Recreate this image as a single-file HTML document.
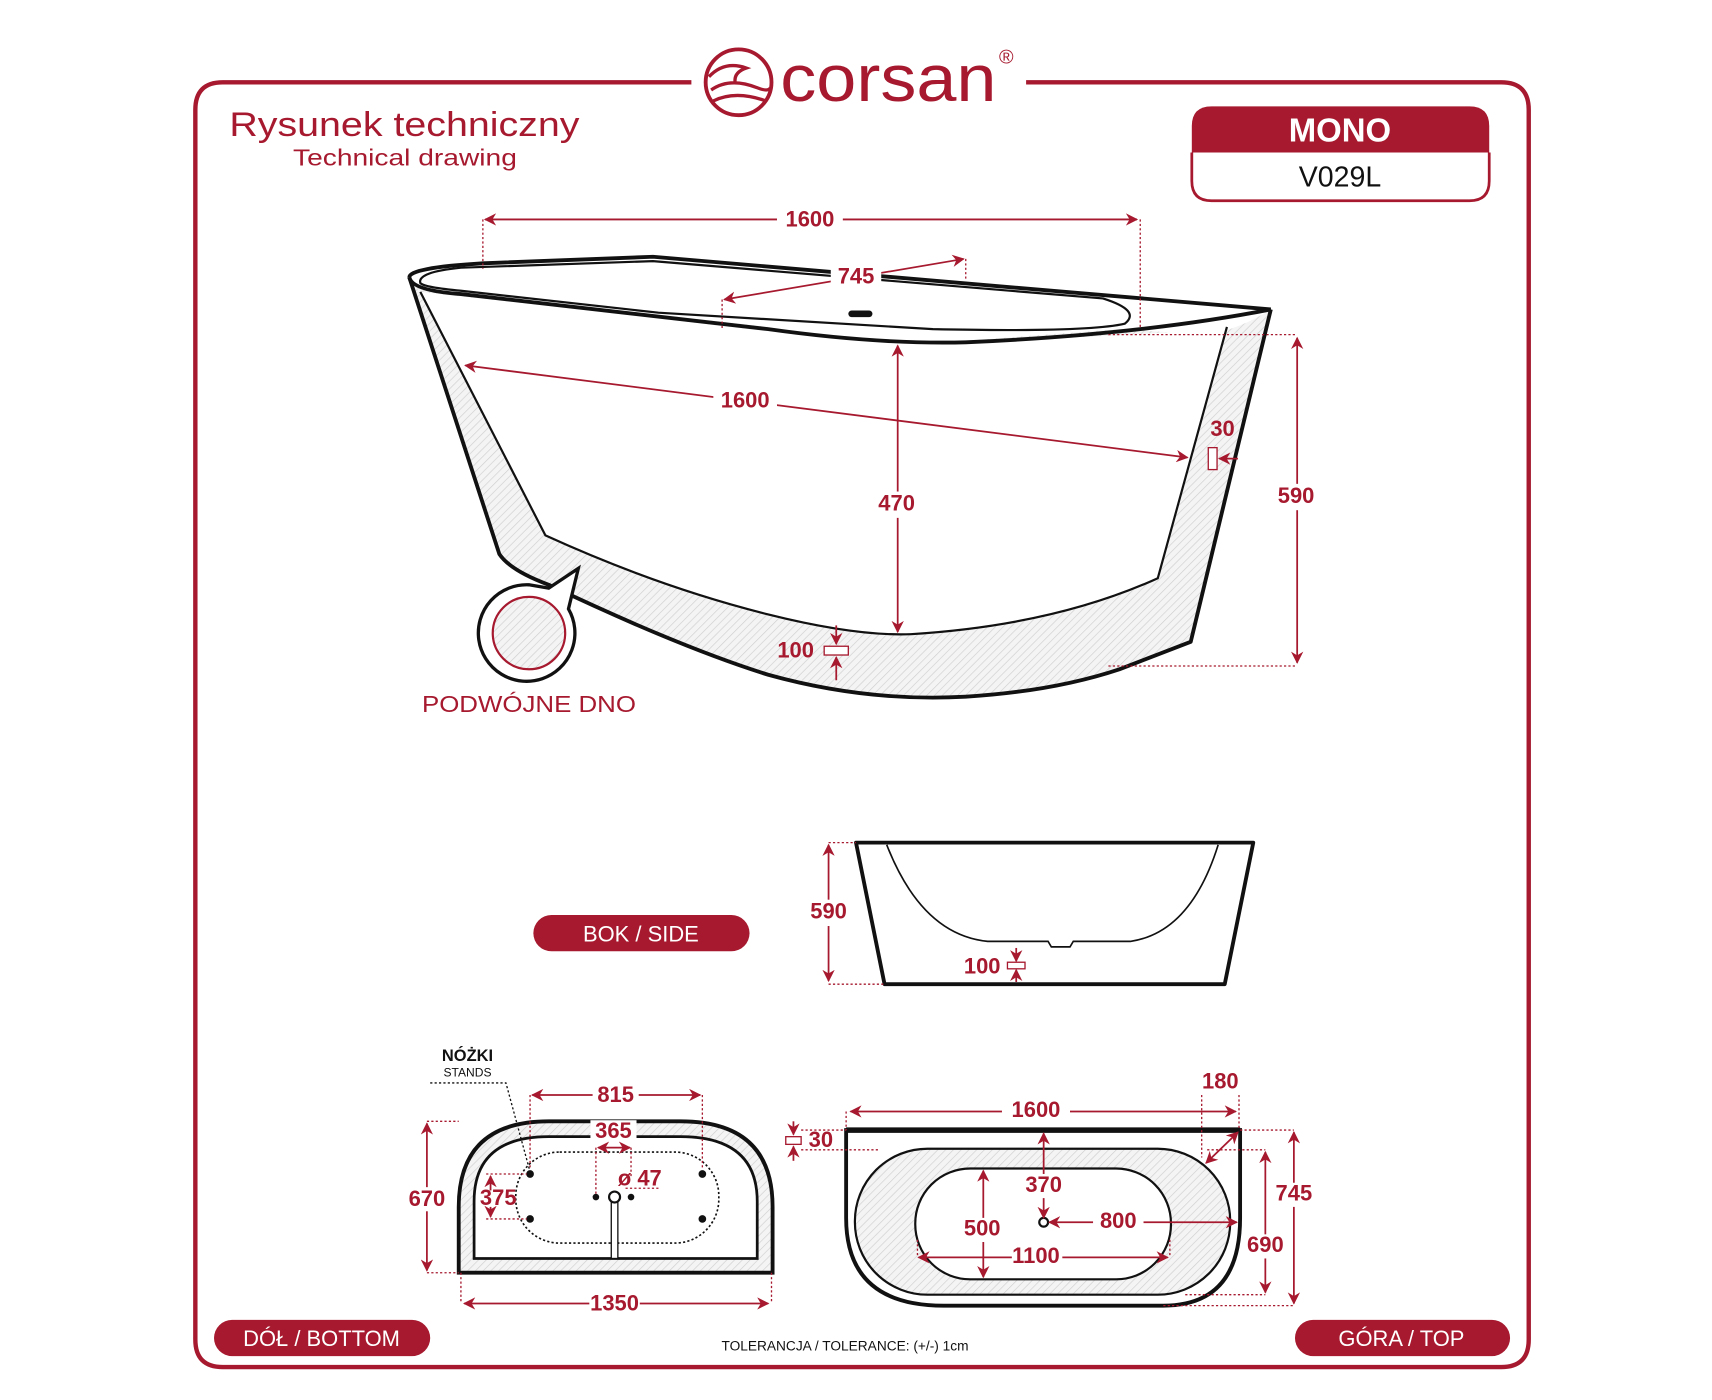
<!DOCTYPE html>
<html><head><meta charset="utf-8"><style>
html,body{margin:0;padding:0;background:#fff;}
svg{display:block;}
text{font-family:"Liberation Sans",sans-serif;}
.d{fill:#a6192e;font-weight:bold;font-size:20px;text-anchor:middle;dominant-baseline:middle;}
.dl{stroke:#a6192e;stroke-width:1.6;fill:none;}
.ext{stroke:#a6192e;stroke-width:1.2;stroke-dasharray:2 2;fill:none;}
.k{stroke:#111;stroke-width:3.5;fill:none;stroke-linejoin:round;}
</style></head><body>
<svg width="1712" height="1400" viewBox="0 0 1560 1276" preserveAspectRatio="none" xmlns="http://www.w3.org/2000/svg">
<defs>
<pattern id="h" width="5" height="5" patternUnits="userSpaceOnUse" patternTransform="rotate(45)">
<rect width="5" height="5" fill="#f4f4f4"/><line x1="0" y1="0" x2="0" y2="5" stroke="#cfcfcf" stroke-width="1.2"/></pattern>
<marker id="a" viewBox="0 0 10 10" refX="9" refY="5" markerWidth="7" markerHeight="7" orient="auto-start-reverse"><path d="M0,0 L10,5 L0,10 L3,5 Z" fill="#a6192e"/></marker>
</defs>
<!-- frame -->
<path d="M630,75 L203,75 Q178,75 178,100 L178,1221 Q178,1246 203,1246 L1368,1246 Q1393,1246 1393,1221 L1393,100 Q1393,75 1368,75 L935,75" fill="none" stroke="#a6192e" stroke-width="4"/>
<!-- logo -->
<circle cx="673" cy="75" r="30" fill="none" stroke="#a6192e" stroke-width="3.5"/>
<path d="M646,70 Q660,55 680,62 Q668,66 670,76 M648,82 Q665,70 690,80 Q700,84 702,80 M650,92 Q670,82 698,92" fill="none" stroke="#a6192e" stroke-width="3"/>
<text x="711" y="92" font-size="60" fill="#a6192e" textLength="197" lengthAdjust="spacingAndGlyphs">corsan</text>
<text x="917" y="58" font-size="18" fill="#a6192e" text-anchor="middle">®</text>
<text x="209" y="124" font-size="31" fill="#a6192e" textLength="319" lengthAdjust="spacingAndGlyphs">Rysunek techniczny</text>
<text x="267" y="151" font-size="21" fill="#a6192e" textLength="204" lengthAdjust="spacingAndGlyphs">Technical drawing</text>
<!-- MONO -->
<path d="M1086,139 L1086,115 Q1086,97 1104,97 L1339,97 Q1357,97 1357,115 L1357,139 Z" fill="#a6192e"/>
<path d="M1086,139 L1086,165 Q1086,183 1104,183 L1339,183 Q1357,183 1357,165 L1357,139" fill="none" stroke="#a6192e" stroke-width="2.5"/>
<text x="1221" y="129" font-size="30" font-weight="bold" fill="#fff" text-anchor="middle">MONO</text>
<text x="1221" y="170" font-size="26" fill="#111" text-anchor="middle">V029L</text>

<!-- main bathtub -->
<path d="M373,253 L455,505 Q470,523 500,533 Q620,590 700,615 Q790,640 880,635 Q960,630 1020,610 L1085,585 L1158,282 Q1130,300 1100,305 L1020,300 L860,312 Q800,314 700,298 L380,262 Z" fill="url(#h)"/>
<path d="M383,266 L497,488 Q600,535 700,560 Q780,580 830,578 Q960,570 1055,527 L1118,298 Q1050,306 860,312 Q750,310 600,290 Z" fill="#fff"/>
<path class="k" d="M373,253 L455,505 Q465,520 500,533 Q620,590 700,615 Q790,640 880,635 Q960,630 1020,610 L1085,585 L1158,282"/>
<path class="k" d="M373,253 Q372,244 440,240 L595,234 L1158,282"/>
<path d="M383,266 L497,488 Q600,535 700,560 Q780,580 830,578 Q960,570 1055,527 L1118,298" fill="none" stroke="#111" stroke-width="2"/>
<path class="k" d="M373,253 Q376,265 420,268 L700,300 Q800,314 880,312 Q1040,305 1158,282"/>
<path d="M383,258 Q380,248 420,244 L595,238 L1005,272 Q1040,283 1025,295 Q990,303 850,300 L600,285 L420,265 Q387,262 383,258 Z" fill="none" stroke="#111" stroke-width="2"/>
<rect x="773" y="283" width="22" height="6" rx="3" fill="#111"/>
<!-- dims main -->
<line class="dl" x1="442" y1="200" x2="1036" y2="200" marker-start="url(#a)" marker-end="url(#a)"/>
<rect x="708" y="188" width="60" height="24" fill="#fff"/><text class="d" x="738" y="201">1600</text>
<line class="ext" x1="440" y1="200" x2="440" y2="245"/><line class="ext" x1="1039" y1="200" x2="1039" y2="300"/>
<line class="dl" x1="660" y1="273" x2="878" y2="236" marker-start="url(#a)" marker-end="url(#a)"/>
<line class="ext" x1="658" y1="273" x2="658" y2="300"/><line class="ext" x1="880" y1="236" x2="880" y2="255"/>
<rect x="757" y="241" width="46" height="22" fill="#fff"/><text class="d" x="780" y="253">745</text>
<line class="dl" x1="424" y1="333" x2="1082" y2="417" marker-start="url(#a)" marker-end="url(#a)"/>
<rect x="650" y="354" width="58" height="24" fill="#fff"/><text class="d" x="679" y="366">1600</text>
<line class="dl" x1="818" y1="315" x2="818" y2="576" marker-start="url(#a)" marker-end="url(#a)"/>
<rect x="795" y="448" width="46" height="24" fill="#fff"/><text class="d" x="817" y="460">470</text>
<line class="dl" x1="1182" y1="308" x2="1182" y2="604" marker-start="url(#a)" marker-end="url(#a)"/>
<rect x="1160" y="441" width="46" height="24" fill="#fff"/><text class="d" x="1181" y="453">590</text>
<line class="ext" x1="1010" y1="305" x2="1182" y2="305"/><line class="ext" x1="1010" y1="607" x2="1182" y2="607"/>
<rect x="1101" y="408" width="8" height="20" fill="#fff" stroke="#a6192e" stroke-width="1.2"/>
<line class="dl" x1="1128" y1="418" x2="1111" y2="418" marker-end="url(#a)"/>
<text class="d" x="1114" y="392">30</text>
<rect x="751" y="589" width="22" height="8" fill="#fff" stroke="#a6192e" stroke-width="1.2"/>
<line class="dl" x1="762" y1="570" x2="762" y2="587" marker-end="url(#a)"/>
<line class="dl" x1="762" y1="620" x2="762" y2="599" marker-end="url(#a)"/>
<text class="d" x="725" y="594">100</text>
<!-- detail circle -->
<path d="M482,533 A44,44 0 1,0 518,555 L527,518 L500,536 Z" fill="#fff" stroke="#111" stroke-width="3"/>
<circle cx="482" cy="577" r="33" fill="url(#h)" stroke="#a6192e" stroke-width="2"/>
<text x="482" y="649" font-size="21" fill="#a6192e" text-anchor="middle" textLength="195" lengthAdjust="spacingAndGlyphs">PODWÓJNE DNO</text>

<!-- BOK / SIDE -->
<rect x="486" y="834" width="197" height="33" rx="16.5" fill="#a6192e"/>
<text x="584" y="858" font-size="20" fill="#fff" text-anchor="middle">BOK / SIDE</text>
<path d="M808,770 Q840,852 900,858 L1040,858 Q1085,850 1110,770 Z" fill="#fff"/>
<path class="k" d="M780,768 L1142,768 L1116,897 L806,897 Z" stroke-width="3"/>
<path d="M808,770 Q840,852 900,858 L955,858 L958,863 L975,863 L978,858 L1030,858 Q1085,850 1110,770" fill="none" stroke="#111" stroke-width="1.5"/>
<line class="dl" x1="755" y1="770" x2="755" y2="894" marker-start="url(#a)" marker-end="url(#a)"/>
<line class="ext" x1="755" y1="768" x2="780" y2="768"/><line class="ext" x1="755" y1="897" x2="806" y2="897"/>
<rect x="735" y="820" width="42" height="24" fill="#fff"/><text class="d" x="755" y="832">590</text>
<rect x="918" y="877" width="16" height="6" fill="#fff" stroke="#a6192e" stroke-width="1.2"/>
<line class="dl" x1="926" y1="864" x2="926" y2="876" marker-end="url(#a)"/>
<line class="dl" x1="926" y1="895" x2="926" y2="884" marker-end="url(#a)"/>
<text class="d" x="895" y="882">100</text>

<!-- bottom view -->
<path d="M418,1160 L418,1100 Q418,1022 500,1022 L620,1022 Q704,1022 704,1100 L704,1160 Z" fill="url(#h)" stroke="#111" stroke-width="3.5"/>
<path d="M432,1147 L432,1095 Q432,1036 500,1036 L620,1036 Q690,1036 690,1095 L690,1147 Z" fill="#fff" stroke="#111" stroke-width="2.5"/>
<rect x="470" y="1050" width="185" height="83" rx="40" fill="none" stroke="#111" stroke-width="1.5" stroke-dasharray="2 2"/>
<g fill="#111"><circle cx="483" cy="1070" r="3.5"/><circle cx="640" cy="1070" r="3.5"/><circle cx="483" cy="1111" r="3.5"/><circle cx="640" cy="1111" r="3.5"/><circle cx="543" cy="1091" r="3"/><circle cx="575" cy="1091" r="3"/></g>
<rect x="557" y="1090" width="6" height="57" fill="#fff" stroke="#111" stroke-width="1.2"/>
<circle cx="560" cy="1091" r="5" fill="#fff" stroke="#111" stroke-width="2"/>
<text x="426" y="967" font-size="15" font-weight="bold" fill="#111" text-anchor="middle">NÓŻKI</text>
<text x="426" y="981" font-size="11" fill="#111" text-anchor="middle">STANDS</text>
<path d="M392,987 L461,987 L483,1068" fill="none" stroke="#111" stroke-width="1.2" stroke-dasharray="2 2"/>
<line class="dl" x1="485" y1="998" x2="638" y2="998" marker-start="url(#a)" marker-end="url(#a)"/>
<rect x="540" y="987" width="42" height="22" fill="#fff"/><text class="d" x="561" y="999">815</text>
<line class="ext" x1="483" y1="998" x2="483" y2="1065"/><line class="ext" x1="640" y1="998" x2="640" y2="1065"/>
<rect x="538" y="1021" width="42" height="22" fill="#fff"/><text class="d" x="559" y="1032">365</text>
<line class="dl" x1="545" y1="1046" x2="574" y2="1046" marker-start="url(#a)" marker-end="url(#a)"/>
<line class="ext" x1="543" y1="1046" x2="543" y2="1088"/><line class="ext" x1="575" y1="1046" x2="575" y2="1072"/>
<text class="d" x="583" y="1075" font-size="18">ø 47</text>
<line class="ext" x1="570" y1="1083" x2="600" y2="1083"/>
<line class="dl" x1="389" y1="1024" x2="389" y2="1158" marker-start="url(#a)" marker-end="url(#a)"/>
<line class="ext" x1="389" y1="1022" x2="418" y2="1022"/><line class="ext" x1="389" y1="1160" x2="418" y2="1160"/>
<rect x="368" y="1082" width="42" height="22" fill="#fff"/><text class="d" x="389" y="1094">670</text>
<line class="ext" x1="443" y1="1070" x2="480" y2="1070"/><line class="ext" x1="443" y1="1111" x2="480" y2="1111"/>
<line class="dl" x1="447" y1="1085" x2="447" y2="1072" marker-end="url(#a)"/>
<line class="dl" x1="447" y1="1100" x2="447" y2="1109" marker-end="url(#a)"/>
<text class="d" x="454" y="1093">375</text>
<line class="dl" x1="423" y1="1188" x2="700" y2="1188" marker-start="url(#a)" marker-end="url(#a)"/>
<line class="ext" x1="420" y1="1160" x2="420" y2="1188"/><line class="ext" x1="703" y1="1160" x2="703" y2="1188"/>
<rect x="537" y="1177" width="46" height="22" fill="#fff"/><text class="d" x="560" y="1189">1350</text>

<!-- top view -->
<path d="M771,1030 L1130,1030 L1130,1110 Q1130,1190 1060,1190 L860,1190 Q771,1190 771,1110 Z" fill="#fff" stroke="#111" stroke-width="3.5"/>
<line x1="771" y1="1030" x2="1130" y2="1030" stroke="#111" stroke-width="5"/>
<rect x="779" y="1047" width="342" height="133" rx="66" fill="url(#h)" stroke="#111" stroke-width="2"/>
<rect x="834" y="1065" width="233" height="101" rx="50" fill="#fff" stroke="#111" stroke-width="2"/>
<circle cx="951" cy="1114" r="4" fill="none" stroke="#111" stroke-width="2"/>
<line class="dl" x1="775" y1="1013" x2="1126" y2="1013" marker-start="url(#a)" marker-end="url(#a)"/>
<rect x="913" y="1002" width="62" height="22" fill="#fff"/><text class="d" x="944" y="1013">1600</text>
<line class="ext" x1="771" y1="1013" x2="771" y2="1030"/><line class="ext" x1="1129" y1="998" x2="1129" y2="1030"/><line class="ext" x1="1095" y1="998" x2="1095" y2="1055"/>
<text class="d" x="1112" y="987">180</text>
<line class="dl" x1="1128" y1="1032" x2="1099" y2="1060" marker-start="url(#a)" marker-end="url(#a)"/>
<rect x="716" y="1036" width="14" height="7" fill="#fff" stroke="#a6192e" stroke-width="1.2"/>
<line class="dl" x1="723" y1="1022" x2="723" y2="1034" marker-end="url(#a)"/>
<line class="dl" x1="723" y1="1058" x2="723" y2="1045" marker-end="url(#a)"/>
<line class="ext" x1="730" y1="1030" x2="771" y2="1030"/><line class="ext" x1="730" y1="1048" x2="800" y2="1048"/>
<text class="d" x="748" y="1040">30</text>
<line class="dl" x1="951" y1="1033" x2="951" y2="1110" marker-start="url(#a)" marker-end="url(#a)"/>
<rect x="930" y="1070" width="42" height="22" fill="#fff"/><text class="d" x="951" y="1081">370</text>
<line class="dl" x1="896" y1="1067" x2="896" y2="1164" marker-start="url(#a)" marker-end="url(#a)"/>
<rect x="874" y="1110" width="44" height="22" fill="#fff"/><text class="d" x="895" y="1121">500</text>
<line class="dl" x1="956" y1="1114" x2="1127" y2="1114" marker-start="url(#a)" marker-end="url(#a)"/>
<rect x="996" y="1103" width="46" height="22" fill="#fff"/><text class="d" x="1019" y="1114">800</text>
<line class="dl" x1="837" y1="1146" x2="1064" y2="1146" marker-start="url(#a)" marker-end="url(#a)"/>
<rect x="922" y="1135" width="46" height="22" fill="#fff"/><text class="d" x="944" y="1146">1100</text>
<line class="ext" x1="836" y1="1130" x2="836" y2="1146"/><line class="ext" x1="1066" y1="1130" x2="1066" y2="1146"/>
<line class="dl" x1="1153" y1="1050" x2="1153" y2="1178" marker-start="url(#a)" marker-end="url(#a)"/>
<line class="ext" x1="1100" y1="1048" x2="1153" y2="1048"/><line class="ext" x1="1080" y1="1180" x2="1153" y2="1180"/>
<rect x="1132" y="1125" width="42" height="22" fill="#fff"/><text class="d" x="1153" y="1136">690</text>
<line class="dl" x1="1179" y1="1032" x2="1179" y2="1188" marker-start="url(#a)" marker-end="url(#a)"/>
<line class="ext" x1="1130" y1="1030" x2="1179" y2="1030"/><line class="ext" x1="1060" y1="1190" x2="1179" y2="1190"/>
<rect x="1158" y="1078" width="42" height="22" fill="#fff"/><text class="d" x="1179" y="1089">745</text>

<!-- pills -->
<rect x="195" y="1203" width="197" height="33" rx="16.5" fill="#a6192e"/>
<text x="293" y="1227" font-size="20" fill="#fff" text-anchor="middle">DÓŁ / BOTTOM</text>
<rect x="1180" y="1203" width="196" height="33" rx="16.5" fill="#a6192e"/>
<text x="1277" y="1227" font-size="20" fill="#fff" text-anchor="middle">GÓRA / TOP</text>
<text x="770" y="1231" font-size="12.5" fill="#111" text-anchor="middle">TOLERANCJA / TOLERANCE: (+/-) 1cm</text>
</svg>
</body></html>
